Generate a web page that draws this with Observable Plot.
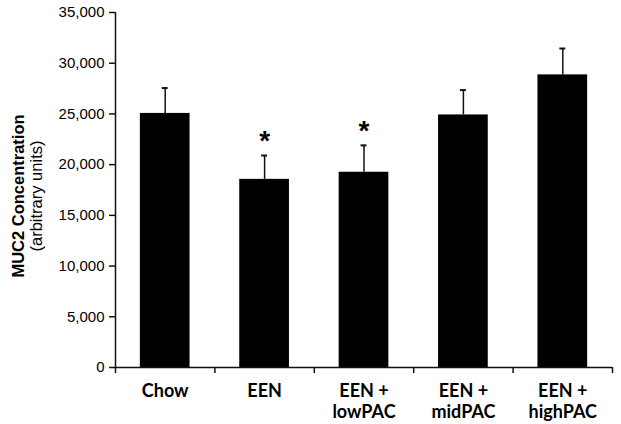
<!DOCTYPE html>
<html><head><meta charset="utf-8">
<script src="https://cdn.jsdelivr.net/npm/d3@7"></script>
<script src="https://cdn.jsdelivr.net/npm/@observablehq/plot@0.6"></script>
<style>body{margin:0;background:#fff}#chart svg{display:block}</style>
</head><body><div id="chart"></div>
<script>
const categories = ["Chow", "EEN", "EEN +\nlowPAC", "EEN +\nmidPAC", "EEN +\nhighPAC"];
const means = [25050, 18550, 19250, 24900, 28850];
const errors = [2500, 2350, 2650, 2450, 2600];
const significant = [false, true, true, false, false];
const yTicks = [0, 5000, 10000, 15000, 20000, 25000, 30000, 35000];
const yTitle = "MUC2 Concentration";
const ySubtitle = "(arbitrary units)";

const data = categories.map((c, i) => ({
  category: c, index: i, mean: means[i], upper: means[i] + errors[i], sig: significant[i]
}));
const boundaries = d3.range(categories.length + 1);
const sans = "Liberation Sans, Arial, sans-serif";

const chart = Plot.plot({
  width: 621, height: 424,
  marginLeft: 115, marginRight: 9, marginTop: 12, marginBottom: 57,
  style: {fontFamily: sans, background: "white", color: "black"},
  x: {type: "linear", domain: [0, categories.length], axis: null},
  y: {type: "linear", domain: [0, 35000], axis: null},
  marks: [
    Plot.rectY(data, {x1: d => d.index + 0.25, x2: d => d.index + 0.75, y1: 0, y2: "mean", fill: "black"}),
    Plot.ruleX(data, {x: d => d.index + 0.5, y1: "mean", y2: "upper", stroke: "#111", strokeWidth: 1.5}),
    Plot.ruleY(data, {y: "upper", x1: d => d.index + 0.47, x2: d => d.index + 0.53, stroke: "#111", strokeWidth: 2}),
    Plot.axisY({ticks: yTicks, tickFormat: d3.format(","), tickSize: 6, tickPadding: 5, fontSize: 15, label: null, stroke: "#111", strokeWidth: 1.5}),
    Plot.ruleX([0], {stroke: "#111", strokeWidth: 1.5}),
    Plot.ruleY([0], {stroke: "#111", strokeWidth: 1.5}),
    Plot.axisX({ticks: boundaries, tickFormat: () => "", tickSize: 6, stroke: "#111", strokeWidth: 1.5, label: null}),
    Plot.text(data, {x: d => d.index + 0.5, y: 0, text: "category", lineAnchor: "top", dy: 15, fontFamily: "Lato, sans-serif", fontWeight: "bold", fontSize: 18, lineHeight: 1.15, fill: "black"}),
    Plot.text(data.filter(d => d.sig), {x: d => d.index + 0.5, y: "upper", text: () => "*", fontSize: 28, fontWeight: "bold", lineAnchor: "middle", dy: -14, fill: "black"}),
    Plot.text([yTitle], {frameAnchor: "left", textAnchor: "middle", dx: -97, dy: 6, rotate: -90, text: d => d, fontWeight: "bold", fontSize: 16.5, lineAnchor: "middle", fill: "black"}),
    Plot.text([ySubtitle], {frameAnchor: "left", textAnchor: "middle", dx: -79, dy: 6, rotate: -90, text: d => d, fontSize: 16.5, lineAnchor: "middle", fill: "black"})
  ]
});
document.getElementById("chart").appendChild(chart);
</script>
</body></html>
